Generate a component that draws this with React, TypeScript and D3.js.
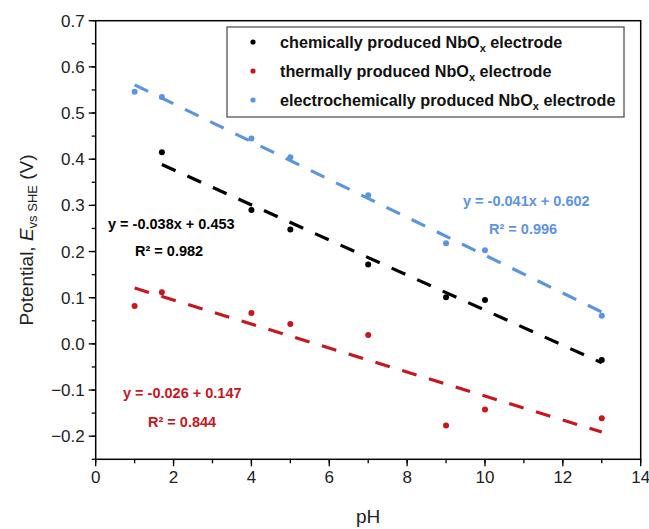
import React from "react";
import * as d3 from "d3";

// pH values and measured potentials (V vs SHE) for each electrode type
const phChemical = [1.7, 4, 5, 7, 9, 10, 13];
const eChemical = [0.415, 0.29, 0.248, 0.172, 0.101, 0.095, -0.035];

const phThermal = [1, 1.7, 4, 5, 7, 9, 10, 13];
const eThermal = [0.082, 0.112, 0.067, 0.043, 0.019, -0.177, -0.142, -0.161];

const phElectro = [1, 1.7, 4, 5, 7, 9, 10, 13];
const eElectro = [0.546, 0.535, 0.445, 0.404, 0.322, 0.218, 0.203, 0.061];

// linear fits: [slope, intercept, pH start, pH end]
const fitChemical = [-0.038, 0.453, 1.7, 13];
const fitThermal = [-0.026, 0.147, 1, 13];
const fitElectro = [-0.041, 0.602, 1, 13];

const xTicks = [0, 2, 4, 6, 8, 10, 12, 14];
const yTicks = [-0.2, -0.1, 0.0, 0.1, 0.2, 0.3, 0.4, 0.5, 0.6, 0.7];

const legendLabels = [
  "chemically produced NbO",
  "thermally produced NbO",
  "electrochemically produced NbO",
];

const BLACK = "#000000";
const RED = "#c8161e";
const BLUE = "#5b95e0";

const W = 649;
const H = 529;
const M = { left: 95.7, right: 640.7, top: 20.7, bottom: 459.3 };
const FONT = "'Liberation Sans', Arial, sans-serif";

export default function App() {
  const x = d3.scaleLinear().domain([0, 14]).range([M.left, M.right]);
  const y = d3.scaleLinear().domain([-0.25, 0.7]).range([M.bottom, M.top]);

  const xMinor = d3.range(0, 14.001, 1);
  const yMinor = d3.range(-0.25, 0.7001, 0.05);

  const line = d3
    .line<[number, number]>()
    .x((d) => x(d[0]))
    .y((d) => y(d[1]));

  const fitPath = (f: number[]) =>
    line([
      [f[2], f[0] * f[2] + f[1]],
      [f[3], f[0] * f[3] + f[1]],
    ]) || "";

  const series = [
    { ph: phChemical, e: eChemical, fit: fitChemical, color: BLACK },
    { ph: phThermal, e: eThermal, fit: fitThermal, color: RED },
    { ph: phElectro, e: eElectro, fit: fitElectro, color: BLUE },
  ];

  const legendColors = [BLACK, RED, BLUE];

  return (
    <svg
      width={W}
      height={H}
      style={{ position: "absolute", left: 0, top: 0, background: "#fff" }}
      fontFamily={FONT}
    >
      {/* fit lines */}
      {series.map((s, i) => (
        <path
          key={"fit" + i}
          d={fitPath(s.fit)}
          stroke={s.color}
          strokeWidth={3.2}
          strokeDasharray="15,13"
          fill="none"
        />
      ))}
      {/* data points */}
      {series.map((s, i) =>
        s.ph.map((p, j) => (
          <circle
            key={"pt" + i + "-" + j}
            cx={x(p)}
            cy={y(s.e[j])}
            r={3}
            fill={s.color}
          />
        ))
      )}

      {/* frame */}
      <rect
        x={M.left}
        y={M.top}
        width={M.right - M.left}
        height={M.bottom - M.top}
        fill="none"
        stroke="#000"
        strokeWidth={1.5}
      />

      {/* x axis ticks */}
      {xMinor.map((t) => (
        <line
          key={"xm" + t}
          x1={x(t)}
          x2={x(t)}
          y1={M.bottom}
          y2={M.bottom + 4}
          stroke="#000"
          strokeWidth={1.3}
        />
      ))}
      {xTicks.map((t) => (
        <g key={"xt" + t}>
          <line
            x1={x(t)}
            x2={x(t)}
            y1={M.bottom}
            y2={M.bottom + 7}
            stroke="#000"
            strokeWidth={1.3}
          />
          <text
            x={x(t)}
            y={M.bottom + 24}
            fontSize={17}
            textAnchor="middle"
            fill="#222"
          >
            {t}
          </text>
        </g>
      ))}

      {/* y axis ticks */}
      {yMinor.map((t, i) => (
        <line
          key={"ym" + i}
          x1={M.left - 4}
          x2={M.left}
          y1={y(t)}
          y2={y(t)}
          stroke="#000"
          strokeWidth={1.3}
        />
      ))}
      {yTicks.map((t) => (
        <g key={"yt" + t}>
          <line
            x1={M.left - 7}
            x2={M.left}
            y1={y(t)}
            y2={y(t)}
            stroke="#000"
            strokeWidth={1.3}
          />
          <text
            x={M.left - 11}
            y={y(t) + 6}
            fontSize={17}
            textAnchor="end"
            fill="#222"
          >
            {d3.format(".1f")(t)}
          </text>
        </g>
      ))}

      {/* axis titles */}
      <text x={(M.left + M.right) / 2} y={523} fontSize={19} textAnchor="middle" fill="#222">
        pH
      </text>
      <text
        transform={`translate(33, ${(M.top + M.bottom) / 2}) rotate(-90)`}
        fontSize={19}
        textAnchor="middle"
        fill="#222"
      >
        Potential,{" "}
        <tspan fontStyle="italic">E</tspan>
        <tspan fontSize={13} dy={4}>vs SHE</tspan>
        <tspan dy={-4}> (V)</tspan>
      </text>

      {/* legend */}
      <rect x={227} y={27} width={397} height={90} fill="#fff" stroke="#555" strokeWidth={1.3} />
      {legendLabels.map((lab, i) => (
        <g key={"lg" + i}>
          <circle cx={253} cy={42 + i * 29} r={2.6} fill={legendColors[i]} />
          <text x={280} y={47.5 + i * 29} fontSize={16.2} fontWeight="bold" fill="#111">
            {lab}
            <tspan fontSize={11} dy={4}>x</tspan>
            <tspan dy={-4}> electrode</tspan>
          </text>
        </g>
      ))}

      {/* fit equations */}
      <text x={108} y={229} fontSize={14.5} fontWeight="bold" fill={BLACK}>
        y = -0.038x + 0.453
      </text>
      <text x={135} y={256} fontSize={14.5} fontWeight="bold" fill={BLACK}>
        R² = 0.982
      </text>
      <text x={463} y={206} fontSize={14.5} fontWeight="bold" fill={BLUE}>
        y = -0.041x + 0.602
      </text>
      <text x={489} y={234} fontSize={14.5} fontWeight="bold" fill={BLUE}>
        R² = 0.996
      </text>
      <text x={123} y={398} fontSize={14.5} fontWeight="bold" fill={RED}>
        y = -0.026 + 0.147
      </text>
      <text x={148} y={427} fontSize={14.5} fontWeight="bold" fill={RED}>
        R² = 0.844
      </text>
    </svg>
  );
}
